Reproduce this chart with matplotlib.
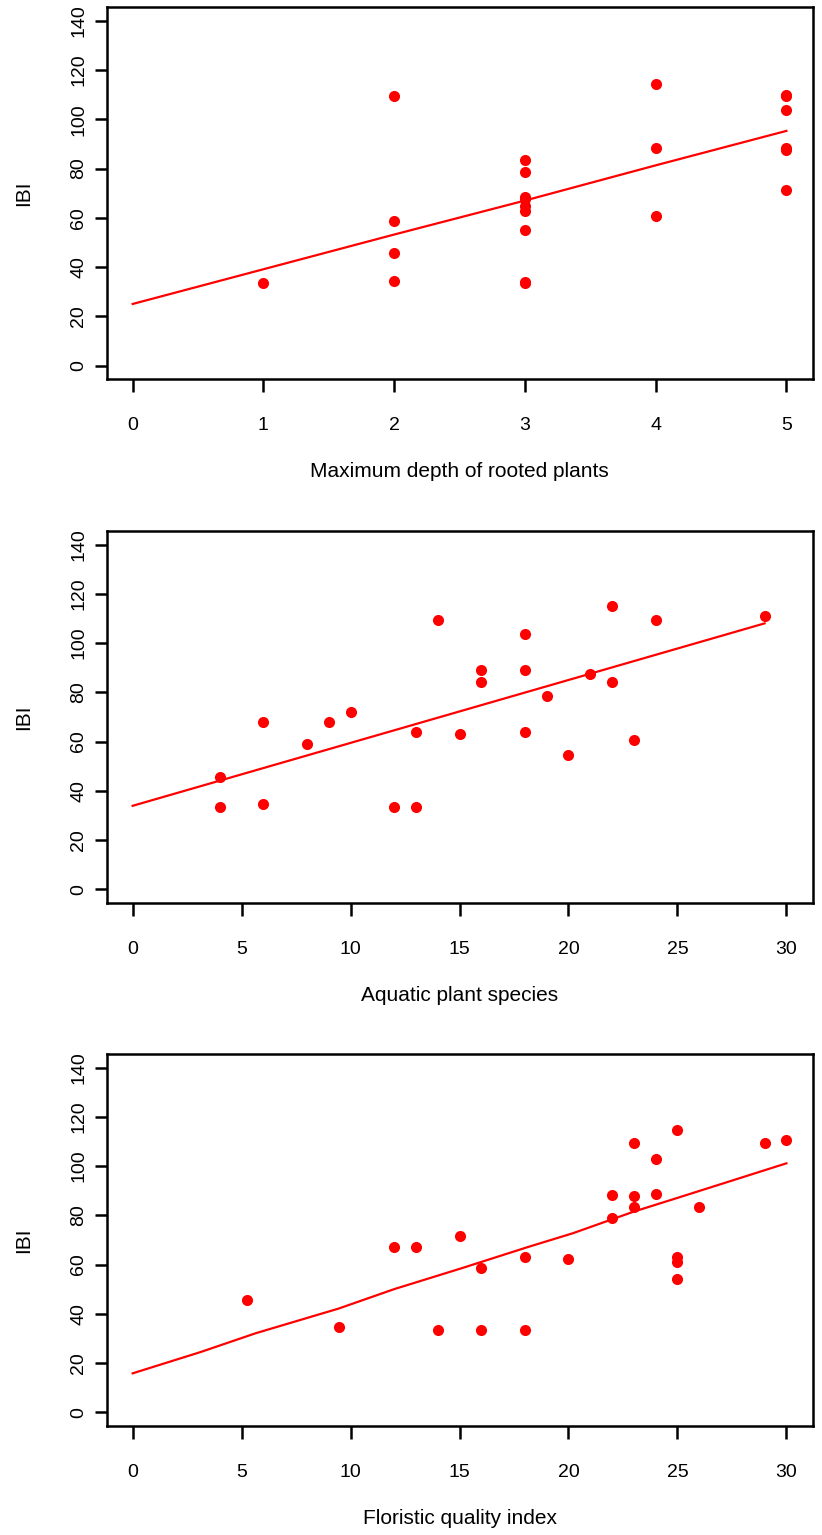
import matplotlib
matplotlib.use("Agg")
import matplotlib.pyplot as plt

plt.rcParams["font.family"] = ["Liberation Sans", "DejaVu Sans"]

RED = "#FF0000"

# panel 1: maximum depth of rooted plants
depth = [1, 2, 2, 2, 2, 3, 3, 3, 3, 3, 3, 3, 3, 3, 4, 4, 4, 5, 5, 5, 5, 5, 5]
depth_ibi = [33.5, 109.3, 58.9, 45.7, 34.5, 83.5, 78.6, 68.3, 67.8, 64.7,
             62.6, 54.9, 33.8, 33.5, 114.4, 88.3, 60.6, 110.0, 109.3, 103.7,
             88.2, 87.4, 71.1]
depth_fit_x = [0, 1, 2, 3, 4, 5]
depth_fit_y = [25.0, 39.1, 53.2, 67.0, 81.3, 95.3]

# panel 2: aquatic plant species
species = [4, 4, 6, 6, 8, 9, 10, 12, 13, 13, 14, 15, 16, 16, 18, 18, 18,
           19, 20, 21, 22, 22, 23, 24, 29]
species_ibi = [45.7, 33.5, 67.8, 34.5, 58.9, 67.8, 71.8, 33.5, 63.8, 33.5,
               109.3, 62.9, 88.9, 84.0, 103.5, 88.9, 63.8, 78.3, 54.7, 87.4,
               114.9, 84.0, 60.5, 109.3, 111.0]
species_fit_x = [0, 29]
species_fit_y = [33.9, 108.0]

# panel 3: floristic quality index
fqi = [5.25, 9.45, 12, 13, 14, 15, 16, 16, 18, 18, 20, 22, 22, 23, 23, 23,
       24, 24, 25, 25, 25, 25, 26, 29, 30]
fqi_ibi = [45.4, 34.8, 67.3, 67.3, 33.2, 71.4, 58.4, 33.2, 63.2, 33.2, 62.4,
           88.4, 78.7, 109.5, 87.7, 83.5, 103.0, 88.6, 114.5, 63.2, 61.2,
           54.3, 83.5, 109.5, 110.5]
fqi_fit_x = [0, 3.1, 5.65, 9.45, 12, 15.1, 18.1, 20.2, 23, 24.8, 30]
fqi_fit_y = [15.8, 24.4, 32.1, 42.1, 50.0, 58.5, 67.0, 72.7, 81.5, 86.5, 101.1]

panels = [
    (depth, depth_ibi, depth_fit_x, depth_fit_y, 5, list(range(0, 6)),
     "Maximum depth of rooted plants", 0.7529),
    (species, species_ibi, species_fit_x, species_fit_y, 30,
     list(range(0, 31, 5)), "Aquatic plant species", 0.4117),
    (fqi, fqi_ibi, fqi_fit_x, fqi_fit_y, 30, list(range(0, 31, 5)),
     "Floristic quality index", 0.0710),
]

fig = plt.figure(figsize=(8.22, 15.35), dpi=100)

for x, y, fx, fy, xmax, xticks, xlabel, bottom in panels:
    ax = fig.add_axes([0.1296, bottom, 0.8589, 0.2425])
    ax.plot(x, y, "o", color=RED, markersize=8, markeredgewidth=0)
    ax.plot(fx, fy, "-", color=RED, linewidth=1.6)

    pad = 0.04 * xmax
    ax.set_xlim(-pad, xmax + pad)
    ax.set_ylim(-5.6, 145.6)
    ax.set_xticks(xticks)
    ax.set_yticks(range(0, 141, 20))

    for s in ax.spines.values():
        s.set_linewidth(1.8)
    ax.tick_params(direction="out", length=9, width=1.8, labelsize=14)
    ax.tick_params(axis="x", pad=18)
    ax.tick_params(axis="y", pad=5)
    for lab in ax.get_yticklabels():
        lab.set_rotation(90)
        lab.set_va("center")

    ax.text(0.5, -0.249, xlabel, transform=ax.transAxes, ha="center",
            va="center", fontsize=15)
    ax.text(-0.117, 0.5, "IBI", transform=ax.transAxes, ha="center",
            va="center", rotation=90, fontsize=15)

fig.savefig("out.png", dpi=100)
